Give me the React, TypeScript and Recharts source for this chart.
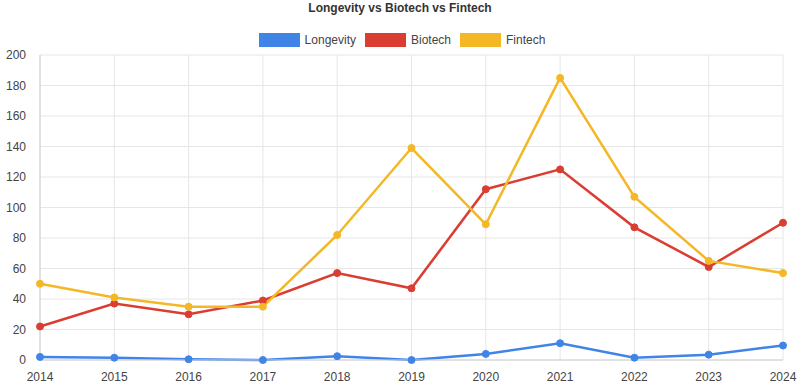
import {
  LineChart,
  Line,
  XAxis,
  YAxis,
  CartesianGrid,
} from 'recharts';

const years = ['2014', '2015', '2016', '2017', '2018', '2019', '2020', '2021', '2022', '2023', '2024'];
const longevity = [2, 1.5, 0.5, 0, 2.5, 0, 4, 11, 1.5, 3.5, 9.5];
const biotech = [22, 37, 30, 39, 57, 47, 112, 125, 87, 61, 90];
const fintech = [50, 41, 35, 35, 82, 139, 89, 185, 107, 65, 57];
const yTicks = [0, 20, 40, 60, 80, 100, 120, 140, 160, 180, 200];

const series = [
  { key: 'Longevity', values: longevity, color: '#4184e8' },
  { key: 'Biotech', values: biotech, color: '#da3d31' },
  { key: 'Fintech', values: fintech, color: '#f4b726' },
];

const data = years.map((year, i) => {
  const row: Record<string, string | number> = { year };
  series.forEach((s) => {
    row[s.key] = s.values[i];
  });
  return row;
});

const font = '"Liberation Sans", Arial, sans-serif';

function LegendBar() {
  return (
    <div
      style={{
        position: 'absolute',
        top: 33,
        width: 800,
        display: 'flex',
        justifyContent: 'center',
        gap: 9,
        fontFamily: font,
        fontSize: 12,
        color: '#444',
        paddingLeft: 4,
        boxSizing: 'border-box',
      }}
    >
      {series.map((s) => (
        <div key={s.key} style={{ display: 'flex', alignItems: 'center', gap: 5 }}>
          <span style={{ display: 'inline-block', width: 41, height: 14, background: s.color }} />
          <span>{s.key}</span>
        </div>
      ))}
    </div>
  );
}

export default function App() {
  return (
    <div style={{ position: 'absolute', left: 0, top: 0, width: 800, height: 385, background: '#fff' }}>
      <div
        style={{
          position: 'absolute',
          top: 1,
          width: 800,
          textAlign: 'center',
          fontFamily: font,
          fontWeight: 'bold',
          fontSize: 12,
          color: '#333',
        }}
      >
        Longevity vs Biotech vs Fintech
      </div>
      <LegendBar />
      <LineChart width={800} height={385} data={data} margin={{ top: 55, right: 17, left: 0, bottom: 4 }}>
        <CartesianGrid stroke="#e6e6e6" />
        <XAxis
          dataKey="year"
          axisLine={{ stroke: '#d0d0d0' }}
          tickLine={false}
          height={21}
          tick={{ fill: '#444', fontSize: 12, fontFamily: font }}
          tickMargin={6}
          interval={0}
        />
        <YAxis
          domain={[0, 200]}
          ticks={yTicks}
          width={40}
          axisLine={{ stroke: '#d0d0d0' }}
          tickLine={false}
          tick={{ fill: '#444', fontSize: 12, fontFamily: font }}
          tickMargin={8}
        />
        {series.map((s) => (
          <Line
            key={s.key}
            dataKey={s.key}
            stroke={s.color}
            strokeWidth={2.5}
            dot={{ r: 3.5, fill: s.color, stroke: s.color, strokeWidth: 1 }}
            isAnimationActive={false}
          />
        ))}
      </LineChart>
    </div>
  );
}
